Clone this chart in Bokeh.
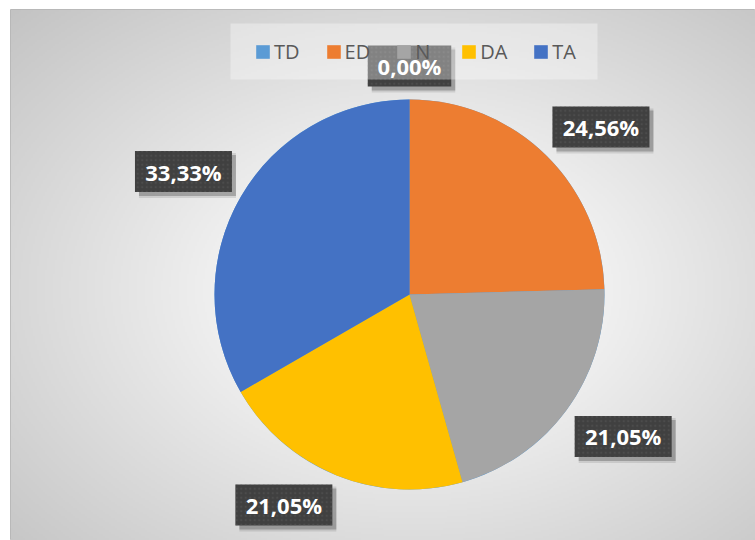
import numpy as np
from bokeh.plotting import figure
from bokeh.models import Range1d, ColumnDataSource, Legend, LegendItem, BoxAnnotation
from bokeh.core.properties import value
from bokeh.embed import file_html
from bokeh.resources import INLINE

# ---- data ----
categories = ["TD", "ED", "N", "DA", "TA"]
counts = [0, 14, 12, 12, 19]
colors = ["#5B9BD5", "#ED7D31", "#A5A5A5", "#FFC000", "#4472C4"]

# ---- layout constants (px == data units) ----
FW, FH = 745, 531
CX, CY, R = 399, 246, 195

p = figure(width=755, height=540, output_backend="svg", toolbar_location=None,
           x_range=Range1d(0, FW), y_range=Range1d(0, FH),
           min_border_left=10, min_border_top=9, min_border_right=0, min_border_bottom=0,
           x_axis_location=None, y_axis_location=None)
p.grid.visible = False
p.border_fill_color = "white"
p.outline_line_color = "#b4b4b4"
p.outline_line_width = 1

# ---- radial gradient background ----
W2, H2 = 373, 266
jj, ii = np.meshgrid(np.arange(W2), np.arange(H2))
xd = (jj + 0.5) * FW / W2
yd = (ii + 0.5) * FH / H2
gcx, gcy = 402.0, 250.0
ax, ay = 402 * 1.414, 281 * 1.414
d = np.sqrt(((xd - gcx) / ax) ** 2 + ((yd - gcy) / ay) ** 2)
g = 255 - 60 * np.clip((d - 0.12) / 0.88, 0, 1)
g = g.astype(np.uint32)
img = (255 << 24) | (g << 16) | (g << 8) | g
p.image_rgba(image=[img.astype(np.uint32)], x=0, y=0, dw=FW, dh=FH)

# ---- pie ----
vals = np.array(counts, dtype=float)
total = vals.sum()
fr = vals / total
c1 = np.cumsum(fr)
c0 = c1 - fr
start = np.pi / 2 - 2 * np.pi * c0
end = np.pi / 2 - 2 * np.pi * c1
mid = (start + end) / 2

src = ColumnDataSource(dict(start=start, end=end, color=colors, cat=categories))
wr = p.wedge(x=CX, y=CY, radius=R, start_angle="start", end_angle="end",
             direction="clock", fill_color="color", line_color=None, source=src)

# ---- data labels ----
texts = [f"{f * 100:.2f}".replace(".", ",") + "%" for f in fr]
bw = np.array([13.5 * len(t) + 16 for t in texts], dtype=float)
bh = 41.0
cs, sn = np.cos(mid), np.sin(mid)
sx = np.where(np.abs(cs) < 0.05, 0, np.sign(cs))
sy = np.where(np.abs(sn) < 0.05, 0, np.sign(sn))
rr = R + 10
lx = CX + rr * cs + sx * bw / 2
ly = CY + rr * sn + sy * bh / 2 + np.where(sx == 0, 3, 0)

lab = ColumnDataSource(dict(x=lx, y=ly, w=bw, t=texts, sx=lx + 4, sy=ly - 4))
p.rect(x="sx", y="sy", width="w", height=bh + 4, source=lab,
       fill_color="black", fill_alpha=0.10, line_color=None)
p.rect(x="sx", y="sy", width="w", height=bh, source=lab,
       fill_color="black", fill_alpha=0.22, line_color=None)
p.rect(x="x", y="y", width="w", height=bh, source=lab,
       fill_color="#404040", line_color=None,
       hatch_pattern="dot", hatch_color="#5a5a5a", hatch_alpha=0.45,
       hatch_scale=4.5, hatch_weight=1)
p.text(x="x", y="y", text="t", source=lab, text_align="center", text_baseline="middle",
       text_color="white", text_font=value("Open Sans"), text_font_style="bold",
       text_font_size="22px")

# ---- legend ----
p.add_layout(BoxAnnotation(left=220, right=587, top=517, bottom=461,
                           fill_color="white", fill_alpha=0.35, line_color=None))
items = [LegendItem(label=cat, renderers=[wr], index=i) for i, cat in enumerate(categories)]
legend = Legend(items=items, orientation="horizontal", location=(244, 475),
                glyph_width=17, glyph_height=17, label_standoff=3, spacing=25,
                padding=0, margin=0, background_fill_alpha=0, border_line_color=None,
                label_text_font="Open Sans", label_text_font_size="20px",
                label_text_color="#595959")
p.add_layout(legend, "center")

open("out.html", "w").write(file_html(p, INLINE))
